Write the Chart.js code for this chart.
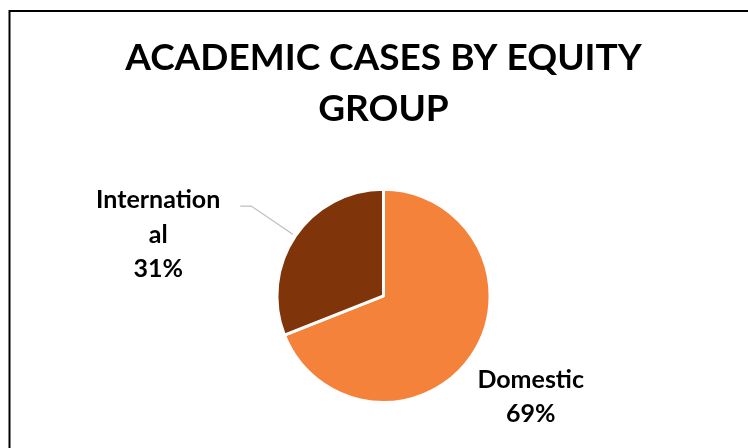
<!DOCTYPE html>
<html>
<head>
<meta charset="utf-8">
<script src="https://cdn.jsdelivr.net/npm/chart.js@4.4.1/dist/chart.umd.min.js"></script>
<style>
    html, body { margin: 0; padding: 0; background: #fff; }
    canvas { display: block; }
</style>
</head>
<body>
<canvas id="pie-chart" width="748" height="448"></canvas>
<script>
// ================= DATA =================
const categories = ["Domestic", "International"];
const shares = [69, 31];
const labelLines = [["Domestic", "69%"], ["Internation", "al", "31%"]];
const titleLines = ["ACADEMIC CASES BY EQUITY", "GROUP"];

const sliceColors = ["#F5823A", "#7F340A"];
const FONT = "Lato";

// ================= FRAME (chart border) =================
const framePlugin = {
    id: "frame",
    beforeDraw(chart) {
        const ctx = chart.ctx;
        ctx.save();
        ctx.fillStyle = "#fff";
        ctx.fillRect(0, 0, chart.width, chart.height);
        ctx.strokeStyle = "#000";
        ctx.lineWidth = 2;
        ctx.beginPath();
        ctx.moveTo(9.5, chart.height + 5);
        ctx.lineTo(9.5, 11);
        ctx.lineTo(chart.width + 5, 11);
        ctx.stroke();
        ctx.restore();
    }
};

// ================= DATA LABELS =================
function drawLines(ctx, lines, cx, firstY, step) {
    const capH = ctx.measureText("H").actualBoundingBoxAscent;
    lines.forEach((line, i) => {
        ctx.fillText(line, cx, firstY + i * step + capH / 2);
    });
}

const labelPlugin = {
    id: "sliceLabels",
    afterDatasetsDraw(chart) {
        const ctx = chart.ctx;
        const arcs = chart.getDatasetMeta(0).data;
        const step = 34.5;

        ctx.save();
        ctx.font = `bold 25px ${FONT}`;
        ctx.fillStyle = "#000";
        ctx.textAlign = "center";
        ctx.textBaseline = "alphabetic";

        arcs.forEach((arc, i) => {
            const { x, y, startAngle, endAngle, outerRadius } =
                arc.getProps(["x", "y", "startAngle", "endAngle", "outerRadius"]);
            const mid = (startAngle + endAngle) / 2;
            const dx = Math.cos(mid);
            const dy = Math.sin(mid);
            const lines = labelLines[i];

            if (i === 0) {
                // label sits outside the slice, no leader line
                const cx = x + dx * outerRadius * 1.67;
                const cy = y + dy * outerRadius * 1.67;
                drawLines(ctx, lines, cx, cy - step * (lines.length - 1) / 2, step);
            } else {
                // leader line + label block to the left
                const sx = x + dx * outerRadius * 1.03;
                const sy = y + dy * outerRadius * 1.03;
                const ex = x + dx * outerRadius * 1.5;
                const ey = y + dy * outerRadius * 1.5;
                const hx = ex - 11;

                ctx.strokeStyle = "#BFBFBF";
                ctx.lineWidth = 1.3;
                ctx.beginPath();
                ctx.moveTo(sx, sy);
                ctx.lineTo(ex, ey);
                ctx.lineTo(hx, ey);
                ctx.stroke();

                const widest = Math.max(...lines.map(l => ctx.measureText(l).width));
                const cx = hx - 20 - widest / 2;
                drawLines(ctx, lines, cx, ey - 7, step);
            }
        });
        ctx.restore();
    }
};

// ================= CHART =================
const chartCtx = document.getElementById("pie-chart").getContext("2d");

new Chart(chartCtx, {
    type: "pie",
    data: {
        labels: categories,
        datasets: [{
            data: shares,
            backgroundColor: sliceColors,
            borderColor: "#fff",
            borderWidth: 3,
            hoverOffset: 0
        }]
    },
    options: {
        responsive: false,
        devicePixelRatio: 1,
        animation: false,
        layout: { padding: { left: 19, right: 0, top: 0, bottom: 44 } },
        plugins: {
            legend: { display: false },
            tooltip: { enabled: false },
            title: {
                display: true,
                text: titleLines,
                color: "#000",
                font: { family: FONT, size: 37, weight: "bold", lineHeight: 1.39 },
                padding: { top: 32, bottom: 53 }
            }
        }
    },
    plugins: [framePlugin, labelPlugin]
});
</script>
</body>
</html>
